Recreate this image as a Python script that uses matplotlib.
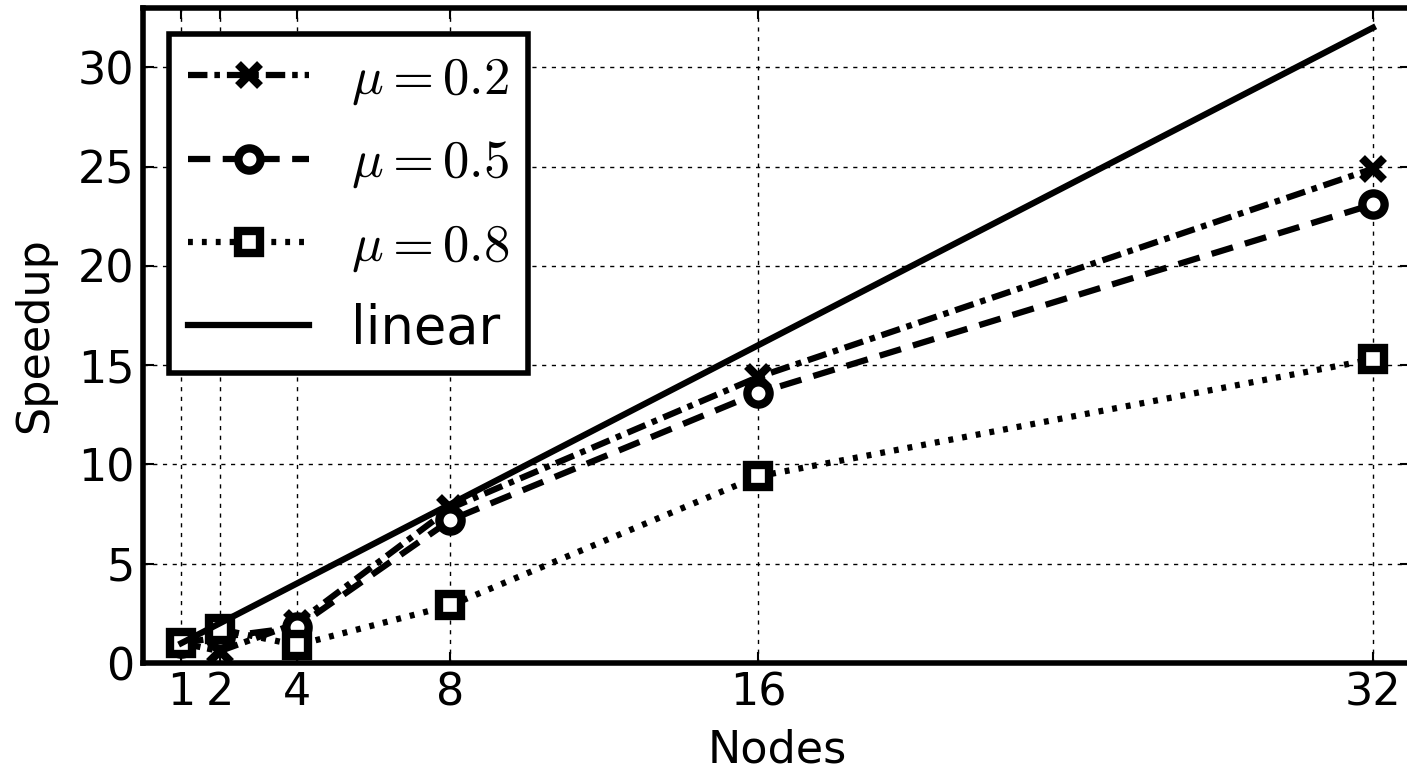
import matplotlib
matplotlib.use("Agg")
import matplotlib.pyplot as plt

plt.rcParams['mathtext.fontset'] = 'cm'
plt.rcParams['lines.scale_dashes'] = False

# Dati
nodes = [1, 2, 4, 8, 16, 32]
speedup_02 = [1.0, 0.6, 2.0, 7.8, 14.4, 24.9]
speedup_05 = [1.0, 1.3, 1.8, 7.2, 13.6, 23.1]
speedup_08 = [1.0, 1.7, 0.9, 2.9, 9.4, 15.3]
linear = [1, 2, 4, 8, 16, 32]

fig = plt.figure(figsize=(14.07, 7.73), dpi=100)
ax = fig.add_axes([0.1016, 0.1423, 0.9015, 0.8475])

common = dict(color='black', lw=4.5, markersize=16, markeredgewidth=6,
              markerfacecolor='white', markeredgecolor='black')
ax.plot(nodes, speedup_02, dashes=(14, 5, 4, 5), marker='x', label=r'$\mu=0.2$', **common)
ax.plot(nodes, speedup_05, dashes=(16, 9), marker='o', label=r'$\mu=0.5$', **common)
ax.plot(nodes, speedup_08, dashes=(3.5, 6.5), marker='s', label=r'$\mu=0.8$', **common)
ax.plot(nodes, linear, linestyle='-', color='black', lw=4.5, label='linear')

ax.set_xlim(0, 33)
ax.set_ylim(0, 33)
ax.set_xticks(nodes)
ax.set_yticks([0, 5, 10, 15, 20, 25, 30])
ax.tick_params(direction='in', length=8, width=1.5, labelsize=32,
               top=True, right=True, pad=6)
ax.grid(True, color='black', linestyle=(0, (3, 4)), lw=1.0)
for s in ax.spines.values():
    s.set_linewidth(4)

ax.set_xlabel('Nodes', fontsize=32, labelpad=10)
ax.set_ylabel('Speedup', fontsize=32, labelpad=16)

leg = ax.legend(loc='upper left', fontsize=38, handlelength=2.3, fancybox=False,
                framealpha=1, edgecolor='black', borderpad=0.35, labelspacing=0.55,
                handletextpad=0.8, numpoints=1)
leg.get_frame().set_linewidth(4)

fig.savefig('out.png', dpi=100)
